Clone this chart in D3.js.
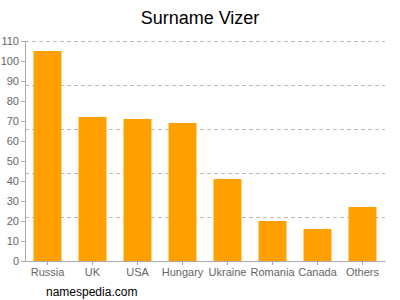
<!DOCTYPE html>
<html>
<head>
<meta charset="utf-8">
<script src="https://cdn.jsdelivr.net/npm/d3@7"></script>
<style>
 body { margin: 0; background: #fff; }
 text { font-family: Arial, "Liberation Sans", sans-serif; }
</style>
</head>
<body>
<svg id="chart" width="400" height="300"></svg>
<script>
 // data
 const countries = ["Russia", "UK", "USA", "Hungary", "Ukraine", "Romania", "Canada", "Others"];
 const counts = [105, 72, 71, 69, 41, 20, 16, 27];
 const yTicks = [0, 10, 20, 30, 40, 50, 60, 70, 80, 90, 100, 110];
 const gridValues = [22, 44, 66, 88, 110];

 const svg = d3.select("#chart");
 const margin = { top: 41, right: 15, bottom: 39, left: 25 };
 const w = 400 - margin.left - margin.right;
 const h = 300 - margin.top - margin.bottom;
 const g = svg.append("g")
     .attr("transform", "translate(" + margin.left + "," + margin.top + ")");

 const xScale = d3.scaleBand()
     .domain(countries)
     .range([0, w])
     .paddingInner(0.378)
     .paddingOuter(0.189);

 const yScale = d3.scaleLinear()
     .domain([0, 110])
     .range([h, 0]);

 // dashed grid
 g.selectAll("line.grid")
     .data(gridValues)
     .enter()
     .append("line")
     .attr("class", "grid")
     .attr("x1", 0)
     .attr("x2", w)
     .attr("y1", d => Math.round(yScale(d)) + 0.5)
     .attr("y2", d => Math.round(yScale(d)) + 0.5)
     .attr("stroke", "#bbb")
     .attr("stroke-dasharray", "4,3");

 // bars
 g.selectAll("rect.bar")
     .data(counts)
     .enter()
     .append("rect")
     .attr("class", "bar")
     .attr("x", (d, i) => xScale(countries[i]))
     .attr("width", xScale.bandwidth())
     .attr("y", d => yScale(d))
     .attr("height", d => h - yScale(d))
     .attr("fill", "#ffa000");

 // y axis
 const yAxis = g.append("g")
     .call(d3.axisLeft(yScale).tickValues(yTicks).tickSize(4).tickPadding(2));
 yAxis.select(".domain").attr("stroke", "#aaa");
 yAxis.selectAll(".tick line").attr("stroke", "#aaa");
 yAxis.selectAll(".tick text")
     .attr("fill", "#666")
     .style("font-size", "11px");

 // x axis
 const xAxis = g.append("g")
     .attr("transform", `translate(0, ${h})`)
     .call(d3.axisBottom(xScale).tickSize(4).tickSizeOuter(0).tickPadding(3));
 xAxis.select(".domain").attr("stroke", "#aaa");
 xAxis.selectAll(".tick line").attr("stroke", "#aaa");
 xAxis.selectAll(".tick text")
     .attr("fill", "#666")
     .style("font-size", "11px");

 // title
 svg.append("text")
     .attr("x", 200)
     .attr("y", 24)
     .attr("text-anchor", "middle")
     .style("font-size", "18px")
     .attr("fill", "#000")
     .text("Surname Vizer");

 // footer
 svg.append("text")
     .attr("x", 46)
     .attr("y", 296)
     .style("font-size", "12px")
     .attr("fill", "#000")
     .text("namespedia.com");
</script>
</body>
</html>
